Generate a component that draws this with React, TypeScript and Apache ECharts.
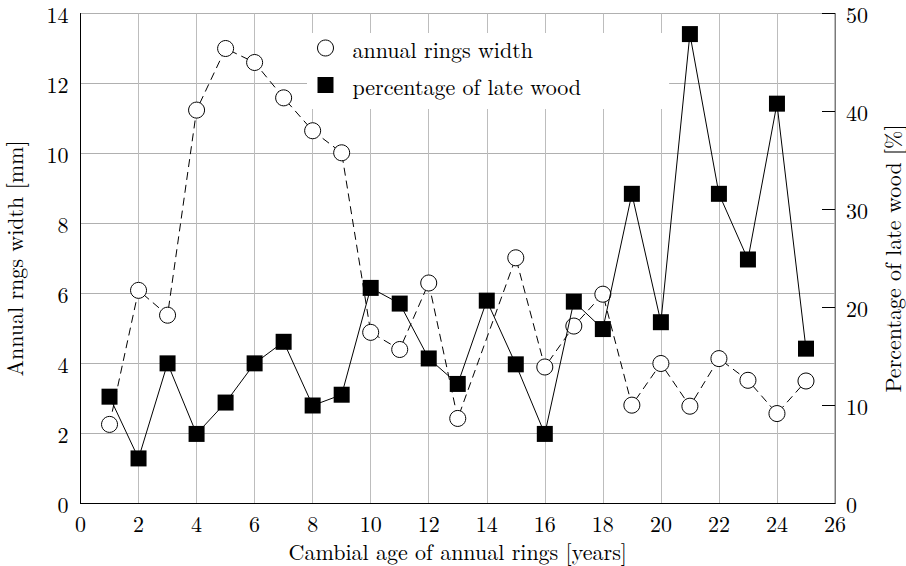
import React, { useEffect, useRef } from "react";
import * as echarts from "echarts";

// Cambial age of each annual ring [years]
const ages: number[] = [1, 2, 3, 4, 5, 6, 7, 8, 9, 10, 11, 12, 13, 14, 15, 16, 17, 18, 19, 20, 21, 22, 23, 24, 25];

// Annual ring width [mm] (no measurement at age 14)
const ringWidth: (number | null)[] = [
  2.26, 6.09, 5.38, 11.24, 13.0, 12.6, 11.59, 10.65, 10.02, 4.89, 4.4, 6.3, 2.43,
  null, 7.02, 3.9, 5.07, 5.98, 2.81, 4.0, 2.78, 4.14, 3.52, 2.57, 3.5,
];

// Share of late wood in each ring [%]
const lateWood: number[] = [
  10.9, 4.6, 14.3, 7.1, 10.3, 14.3, 16.5, 10.0, 11.1, 22.0, 20.4, 14.8, 12.2,
  20.7, 14.2, 7.1, 20.6, 17.8, 31.6, 18.5, 47.9, 31.6, 24.9, 40.8, 15.8,
];

const xTicks = { min: 0, max: 26, interval: 2 };
const widthTicks = { min: 0, max: 14, interval: 2 };
const percentTicks = { min: 0, max: 50, interval: 10 };

const seriesNames = ["annual rings width", "percentage of late wood"];
const axisNames = {
  x: "Cambial age of annual rings [years]",
  left: "Annual rngs width [mm]",
  right: "Percentage of late wood [%]",
};

const FONT = "Latin Modern Roman";
const FS = 22;

export default function App() {
  const ref = useRef<HTMLDivElement>(null);

  useEffect(() => {
    if (!ref.current) return;
    const chart = echarts.init(ref.current, undefined, { renderer: "svg" });

    const ringData = ages
      .map((a, i) => [a, ringWidth[i]] as [number, number | null])
      .filter((p) => p[1] !== null);
    const lateData = ages.map((a, i) => [a, lateWood[i]]);

    const label = { color: "#000", fontFamily: FONT, fontSize: FS };
    const tickLabel = { ...label, lineHeight: 22 };
    const nameLabel = { ...label, lineHeight: 22 };

    chart.setOption({
      animation: false,
      backgroundColor: "#fff",
      textStyle: { fontFamily: FONT },
      grid: {
        left: 80.5,
        right: 71,
        top: 13.5,
        bottom: 62.5,
        outerBoundsMode: "none",
        containLabel: false,
        show: true,
        borderColor: "#7a7a7a",
        borderWidth: 1,
        backgroundColor: "transparent",
      },
      legend: {
        orient: "vertical",
        left: 307,
        top: 33,
        padding: [4, 88, 13, 10],
        backgroundColor: "#fff",
        itemWidth: 16,
        itemHeight: 16,
        itemGap: 15,
        textStyle: { ...label, lineHeight: 16, padding: [0, 0, 0, 14] },
        data: [
          {
            name: seriesNames[0],
            icon: "circle",
            itemStyle: { color: "#fff", borderColor: "#000", borderWidth: 1 },
          },
          {
            name: seriesNames[1],
            icon: "rect",
            itemStyle: { color: "#000", borderColor: "#000", borderWidth: 0 },
          },
        ],
      },
      xAxis: {
        type: "value",
        ...xTicks,
        name: axisNames.x,
        nameLocation: "middle",
        nameGap: 36,
        nameTextStyle: nameLabel,
        axisLine: { show: true, lineStyle: { color: "#000", width: 1 } },
        axisTick: { show: false },
        axisLabel: { ...tickLabel, margin: 8 },
        splitLine: { show: true, lineStyle: { color: "#bdbdbd", width: 1 } },
      },
      yAxis: [
        {
          type: "value",
          position: "left",
          ...widthTicks,
          name: axisNames.left,
          nameLocation: "middle",
          nameRotate: 90,
          nameGap: 56,
          nameTextStyle: nameLabel,
          axisLine: { show: true, lineStyle: { color: "#000", width: 1 } },
          axisTick: { show: false },
          axisLabel: { ...tickLabel, margin: 12 },
          splitLine: { show: true, lineStyle: { color: "#b0b0b0", width: 1 } },
        },
        {
          type: "value",
          position: "right",
          ...percentTicks,
          name: axisNames.right,
          nameLocation: "middle",
          nameRotate: 90,
          nameGap: 45,
          nameTextStyle: nameLabel,
          axisLine: { show: true, lineStyle: { color: "#7a7a7a", width: 1 } },
          axisTick: {
            show: true,
            inside: true,
            length: 13,
            lineStyle: { color: "#000", width: 1 },
          },
          axisLabel: { ...tickLabel, margin: 11 },
          splitLine: { show: false },
        },
      ],
      series: [
        {
          name: seriesNames[0],
          type: "line",
          yAxisIndex: 0,
          data: ringData,
          symbol: "circle",
          symbolSize: 16,
          lineStyle: { color: "#000", width: 1, type: [8, 5] },
          itemStyle: { color: "#fff", borderColor: "#000", borderWidth: 1 },
          z: 3,
        },
        {
          name: seriesNames[1],
          type: "line",
          yAxisIndex: 1,
          data: lateData,
          symbol: "rect",
          symbolSize: 16,
          lineStyle: { color: "#000", width: 1 },
          itemStyle: { color: "#000", borderColor: "#000", borderWidth: 0 },
          z: 4,
        },
      ],
    });

    return () => chart.dispose();
  }, []);

  return (
    <div
      ref={ref}
      style={{ position: "absolute", left: 0, top: 0, width: 906, height: 566 }}
    />
  );
}
